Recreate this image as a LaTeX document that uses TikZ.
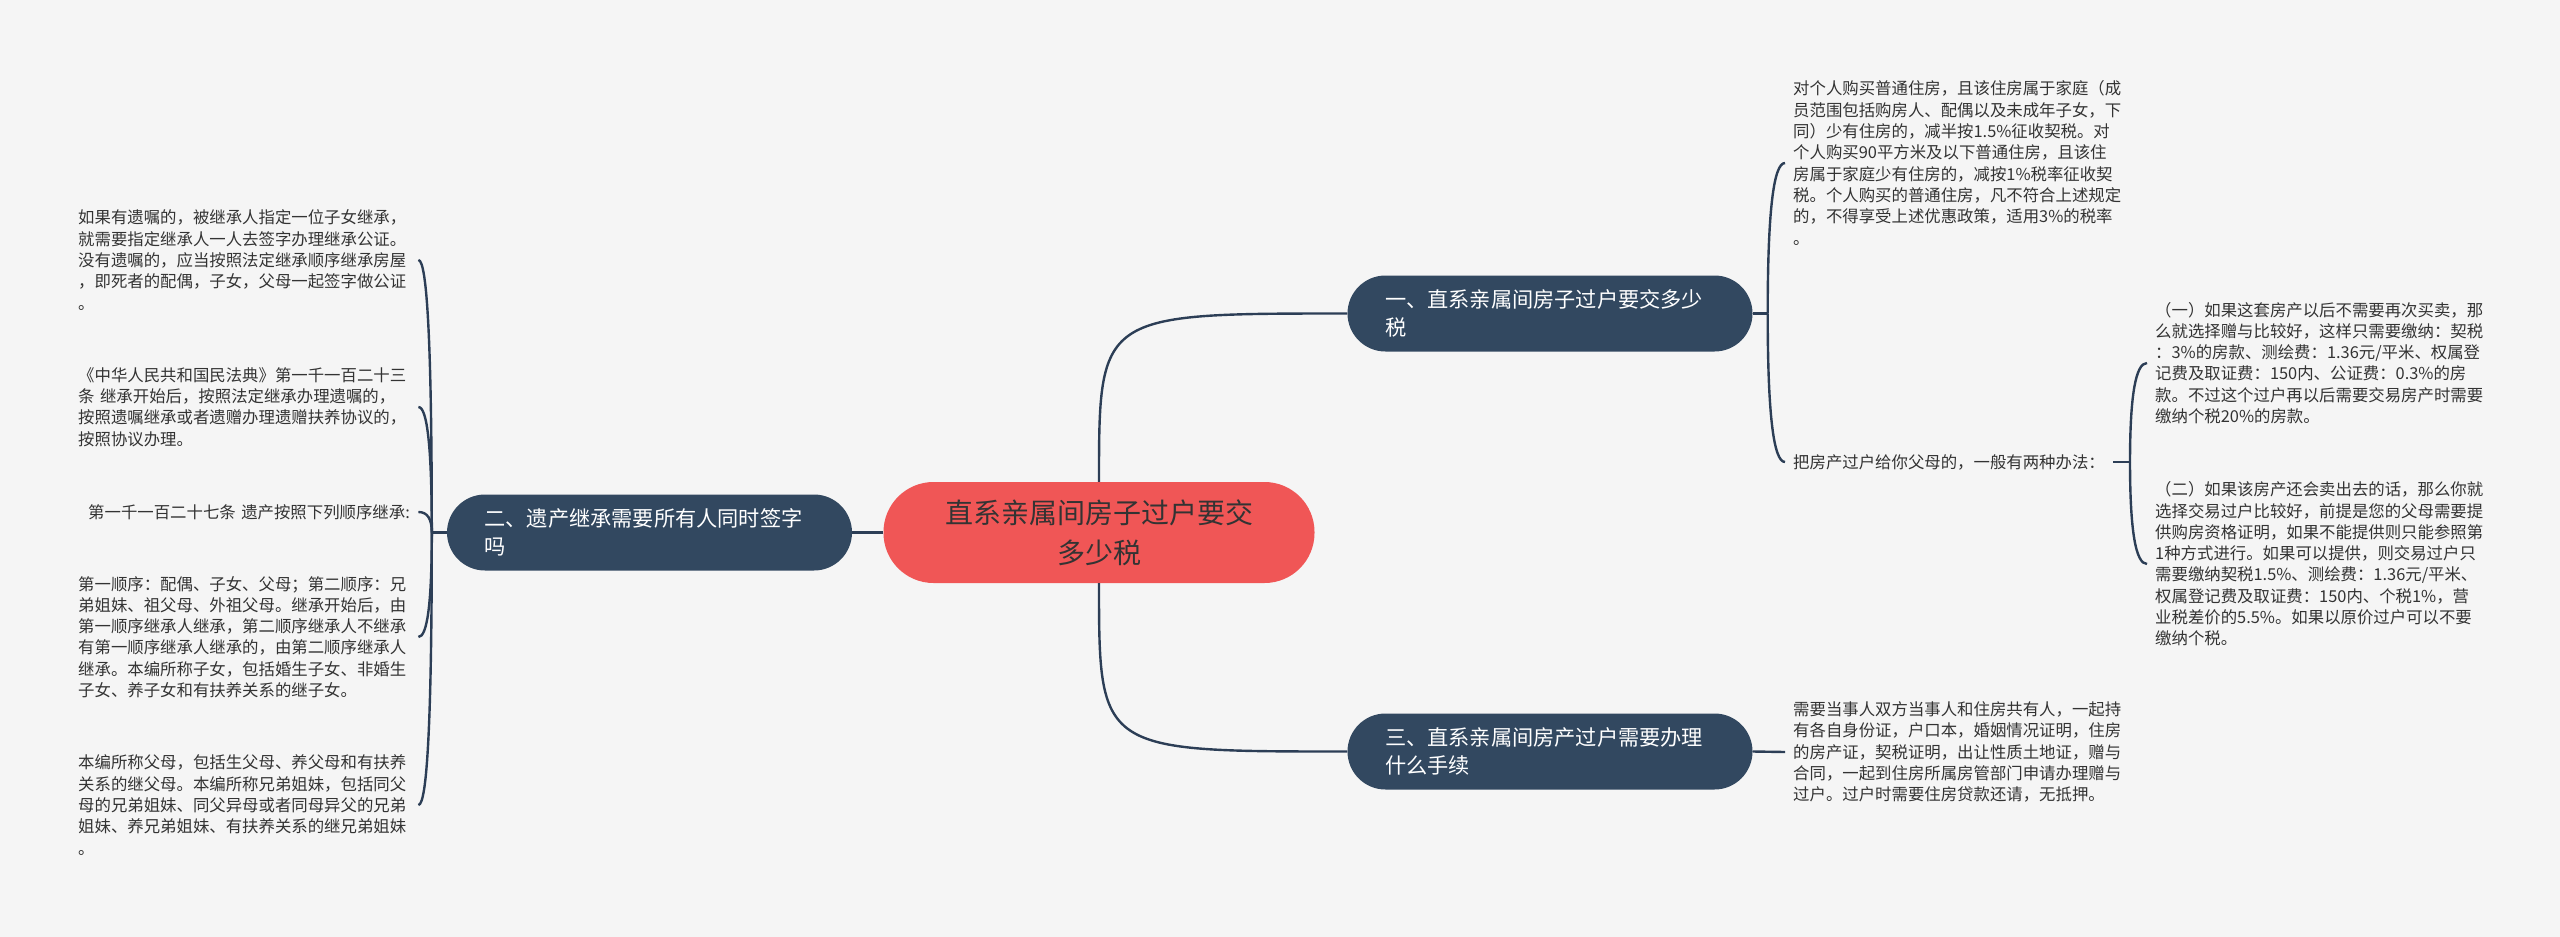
\documentclass[tikz,border=0pt]{standalone}
\usepackage{fontspec}
\newfontfamily\cjk{Noto Sans CJK SC}
\usetikzlibrary{calc,positioning}
\definecolor{bgc}{RGB}{245,245,245}
\definecolor{navy}{RGB}{50,72,96}
\definecolor{rootc}{RGB}{240,86,86}
\definecolor{linkc}{RGB}{44,62,86}
\definecolor{txtc}{RGB}{51,51,51}

\begin{document}
\begin{tikzpicture}[x=1pt, y=-1pt,
root/.style={fill=rootc, rounded corners=50pt, minimum width=431pt, minimum height=101pt, align=center, text=txtc, font=\cjk\fontsize{28}{40}\selectfont},
topic/.style={fill=navy, rounded corners=38pt, text width=330pt, inner xsep=37.5pt, minimum height=76pt, align=left, text=white, font=\cjk\fontsize{21.2}{28}\selectfont},
leaf/.style={anchor=west, align=left, inner xsep=8pt, inner ysep=3pt, text=txtc, font=\cjk\fontsize{16.4}{21.3}\selectfont},
para/.style={leaf, text width=332pt},
link/.style={draw=linkc, line width=2.4pt}
]
\fill[bgc] (0,0) rectangle (2560,937);
\useasboundingbox (0,0) rectangle (2560,937);

% main topics
\node[root] (root) at (1099,532.5) {直系亲属间房子过户要交\\多少税};
\node[topic] (n2) at (649.5,532.5) {二、遗产继承需要所有人同时签字\\吗};
\node[topic] (n1) at (1550,313.5) {一、直系亲属间房子过户要交多少\\税};
\node[topic] (n3) at (1550,751.5) {三、直系亲属间房产过户需要办理\\什么手续};

% left leaves
\node[para] (l1) at (70,260) {如果有遗嘱的，被继承人指定一位子女继承，\\就需要指定继承人一人去签字办理继承公证。\\没有遗嘱的，应当按照法定继承顺序继承房屋\\，即死者的配偶，子女，父母一起签字做公证\\。};
\node[para] (l2) at (70,407) {《中华人民共和国民法典》第一千一百二十三\\条 继承开始后，按照法定继承办理遗嘱的，\\按照遗嘱继承或者遗赠办理遗赠扶养协议的，\\按照协议办理。};
\node[para] (l3) at (70,512) {\mbox{\hspace*{10pt}第一千一百二十七条 遗产按照下列顺序继承:}};
\node[para] (l4) at (70,637) {第一顺序：配偶、子女、父母；第二顺序：兄\\弟姐妹、祖父母、外祖父母。继承开始后，由\\第一顺序继承人继承，第二顺序继承人不继承\\有第一顺序继承人继承的，由第二顺序继承人\\继承。本编所称子女，包括婚生子女、非婚生\\子女、养子女和有扶养关系的继子女。};
\node[para] (l5) at (70,805) {本编所称父母，包括生父母、养父母和有扶养\\关系的继父母。本编所称兄弟姐妹，包括同父\\母的兄弟姐妹、同父异母或者同母异父的兄弟\\姐妹、养兄弟姐妹、有扶养关系的继兄弟姐妹\\。};

% right leaves
\node[para] (r1) at (1785,163) {对个人购买普通住房，且该住房属于家庭（成\\员范围包括购房人、配偶以及未成年子女，下\\同）少有住房的，减半按1.5\%征收契税。对\\个人购买90平方米及以下普通住房，且该住\\房属于家庭少有住房的，减按1\%税率征收契\\税。个人购买的普通住房，凡不符合上述规定\\的，不得享受上述优惠政策，适用3\%的税率\\。};
\node[leaf] (r2) at (1785,462) {把房产过户给你父母的，一般有两种办法：};
\node[para] (r2a) at (2147,363) {（一）如果这套房产以后不需要再次买卖，那\\么就选择赠与比较好，这样只需要缴纳：契税\\：3\%的房款、测绘费：1.36元/平米、权属登\\记费及取证费：150内、公证费：0.3\%的房\\款。不过这个过户再以后需要交易房产时需要\\缴纳个税20\%的房款。};
\node[para] (r2b) at (2147,564) {（二）如果该房产还会卖出去的话，那么你就\\选择交易过户比较好，前提是您的父母需要提\\供购房资格证明，如果不能提供则只能参照第\\1种方式进行。如果可以提供，则交易过户只\\需要缴纳契税1.5\%、测绘费：1.36元/平米、\\权属登记费及取证费：150内、个税1\%，营\\业税差价的5.5\%。如果以原价过户可以不要\\缴纳个税。};
\node[para] (r3) at (1785,752) {需要当事人双方当事人和住房共有人，一起持\\有各自身份证，户口本，婚姻情况证明，住房\\的房产证，契税证明，出让性质土地证，赠与\\合同，一起到住房所属房管部门申请办理赠与\\过户。过户时需要住房贷款还请，无抵押。};

% junctions
\coordinate[left=15pt of n2] (jl);
\coordinate[right=15pt of n1] (jr1);
\coordinate[right=17pt of r2] (jr2);

% connectors
\draw[link] (root.west) -- (n2.east);
\draw[link] (root.north) .. controls (root.north |- n1.west) .. (n1.west);
\draw[link] (root.south) .. controls (root.south |- n3.west) .. (n3.west);
\draw[link] (n2.west) -- (jl);
\draw[link] (n1.east) -- (jr1);
\draw[link] (r2.east) -- (jr2);
\draw[link] (n3.east) -- (r3.west);
\foreach \j/\leaf in {jl/l1.east, jl/l2.east, jl/l3.east, jl/l4.east, jl/l5.east,
  jr1/r1.west, jr1/r2.west, jr2/r2a.west, jr2/r2b.west}
  \draw[link] (\j) .. controls ($(\j)!.67!(\j|-\leaf)$) and ($(\leaf)!.67!(\j|-\leaf)$) .. (\leaf);
\end{tikzpicture}
\end{document}
